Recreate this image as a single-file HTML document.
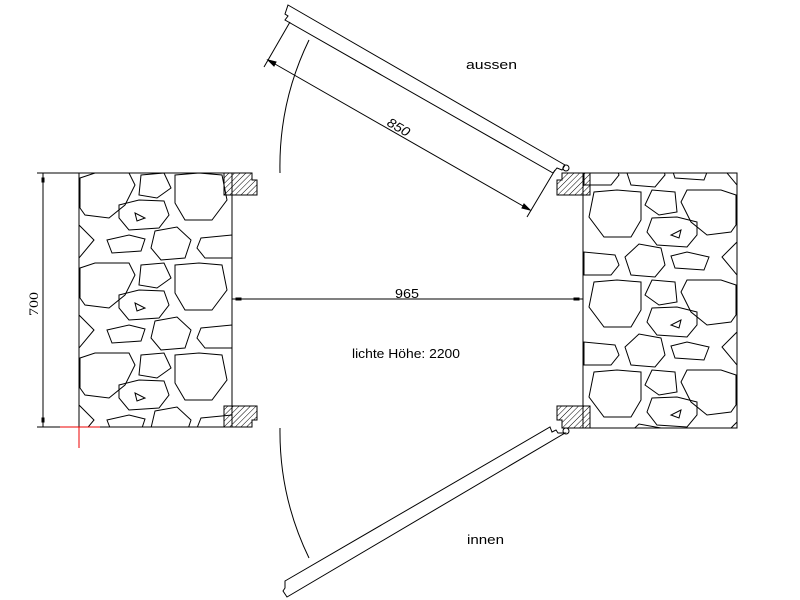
<!DOCTYPE html>
<html><head><meta charset="utf-8"><style>html,body{margin:0;padding:0;background:#fff}svg{display:block}</style></head>
<body>
<svg width="800" height="600" viewBox="0 0 800 600" xmlns="http://www.w3.org/2000/svg">
<defs>
<pattern id="h" width="4" height="4" patternUnits="userSpaceOnUse" patternTransform="rotate(45)">
<line x1="0" y1="0" x2="0" y2="4" stroke="#000" stroke-width="1"/>
</pattern>
<g id="tile" fill="none" stroke="#000" stroke-width="1">
<polygon points="1,5 16,0 50,0 56,12 46,32 30,45 6,42 1,35"/>
<polygon points="62,2 85,0 92,15 78,25 60,22"/>
<polygon points="96,2 120,0 143,2 148,27 133,47 106,47 96,30"/>
<polygon points="40,32 60,27 85,28 90,42 80,55 50,57 40,45"/>
<polygon points="28,67 50,62 66,66 62,78 33,80"/>
<polygon points="76,58 98,54 112,67 106,85 82,87 72,75"/>
<polygon points="122,65 153,62 153,85 126,85 118,75"/>
<polygon points="0,52 15,67 0,85"/>
<polygon points="56,40 66,45 58,48"/>
</g>
<clipPath id="cl"><rect x="79" y="173" width="153" height="254"/></clipPath>
<clipPath id="cr"><rect x="583" y="173" width="154" height="255"/></clipPath>
</defs>
<g stroke="#000" stroke-width="1" fill="none">
<!-- left wall -->
<rect x="79" y="173" width="153" height="254"/>
<g clip-path="url(#cl)">
<use href="#tile" x="79" y="173"/><use href="#tile" x="79" y="263"/><use href="#tile" x="79" y="353"/><use href="#tile" x="79" y="83"/>
</g>
<!-- right wall -->
<rect x="583" y="173" width="154" height="255"/>
<g clip-path="url(#cr)">
<g transform="translate(737,0) scale(-1,1)">
<use href="#tile" x="0" y="190"/><use href="#tile" x="0" y="280"/><use href="#tile" x="0" y="370"/><use href="#tile" x="0" y="100"/>
</g>
</g>
<!-- jambs -->
<polygon points="224,173 252,173 252,180 257,180 257,195 224,195" fill="url(#h)"/>
<polygon points="224,406 257,406 257,420 252,420 252,427 224,427" fill="url(#h)"/>
<polygon points="562,173 590,173 590,195 557,195 557,180 562,180" fill="url(#h)"/>
<polygon points="557,406 590,406 590,428 562,428 562,420 557,420" fill="url(#h)"/>
<!-- 700 dim -->
<line x1="43" y1="173" x2="43" y2="427"/>
<line x1="37" y1="173" x2="79" y2="173"/>
<line x1="37" y1="427" x2="79" y2="427"/>
<rect x="42" y="178" width="2" height="4" fill="#000"/>
<rect x="42" y="418" width="2" height="4" fill="#000"/>
<line x1="60" y1="427" x2="100" y2="427" stroke="#e00"/>
<line x1="79" y1="427" x2="79" y2="448" stroke="#e00"/>
<!-- 965 dim -->
<line x1="232" y1="299" x2="583" y2="299"/>
<rect x="236" y="298" width="5" height="2" fill="#000"/>
<rect x="574" y="298" width="5" height="2" fill="#000"/>
<!-- top door -->
<polygon points="288,5 565,165 562,170 557,168 553,173 285,20 288,16 285,14"/>
<circle cx="566" cy="168" r="3"/>
<path d="M280,173 A289,289 0 0 1 309,40"/>
<line x1="268" y1="60" x2="530" y2="210"/>
<line x1="264" y1="67" x2="290" y2="22"/>
<line x1="527" y1="217" x2="555" y2="170"/>
<polygon points="268,60 276,62 274,66" fill="#000"/>
<polygon points="530,210 522,208 524,204" fill="#000"/>
<!-- bottom door -->
<polygon points="285,581 550,427 552,432 556,430 558,433 565,433 287,597 283,591 285,588"/>
<circle cx="566" cy="431" r="3"/>
<path d="M280,428 A289,289 0 0 0 309,558"/>
</g>
<g font-family="Liberation Sans, sans-serif" font-size="13" fill="#000">
<text x="466" y="69" textLength="51" lengthAdjust="spacingAndGlyphs">aussen</text>
<text x="467" y="544" textLength="37" lengthAdjust="spacingAndGlyphs">innen</text>
<text x="395" y="298" textLength="24" lengthAdjust="spacingAndGlyphs">965</text>
<text x="352" y="358" textLength="108" lengthAdjust="spacingAndGlyphs">lichte Höhe: 2200</text>
<text transform="translate(386,125) rotate(30)" font-style="italic" textLength="24" lengthAdjust="spacingAndGlyphs">850</text>
<text transform="translate(38,316) rotate(-90)" font-family="Liberation Serif, serif" textLength="24" lengthAdjust="spacingAndGlyphs">700</text>
</g>
</svg>
</body></html>
